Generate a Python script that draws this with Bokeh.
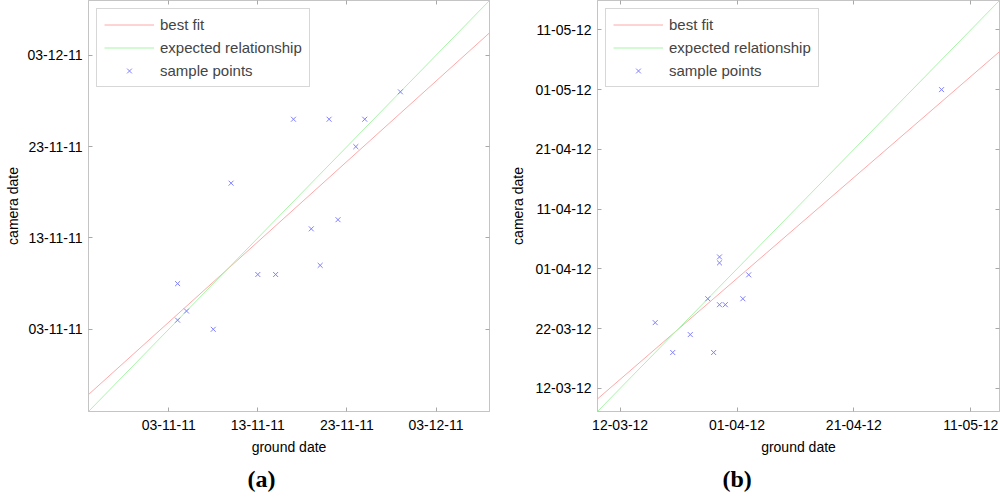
import pandas as pd
from bokeh.plotting import figure
from bokeh.layouts import row
from bokeh.models import (Range1d, FixedTicker, DatetimeAxis, DatetimeTickFormatter,
                          Legend, LegendItem, Title, CustomJSTickFormatter, ColumnDataSource)
from bokeh.core.properties import value
from bokeh.embed import file_html
from bokeh.resources import INLINE

# ---------------- Panel (a) data ----------------
A_GROUND = ["2011-11-04", "2011-11-04", "2011-11-05", "2011-11-08", "2011-11-10",
            "2011-11-13", "2011-11-15", "2011-11-17", "2011-11-19", "2011-11-20",
            "2011-11-21", "2011-11-22", "2011-11-24", "2011-11-25", "2011-11-29"]
A_CAMERA = ["2011-11-08", "2011-11-04", "2011-11-05", "2011-11-03", "2011-11-19",
            "2011-11-09", "2011-11-09", "2011-11-26", "2011-11-14", "2011-11-10",
            "2011-11-26", "2011-11-15", "2011-11-23", "2011-11-26", "2011-11-29"]
A_RANGE = ["2011-10-25 00:00", "2011-12-09 00:00"]
A_FIT_CAMERA = ["2011-10-26 20:30", "2011-12-05 11:00"]
A_XTICKS = ["2011-11-03", "2011-11-13", "2011-11-23", "2011-12-03"]
A_YTICKS = ["2011-11-03", "2011-11-13", "2011-11-23", "2011-12-03"]

# ---------------- Panel (b) data ----------------
B_GROUND = ["2012-03-18", "2012-03-21", "2012-03-24", "2012-03-27", "2012-03-28",
            "2012-03-29", "2012-03-29", "2012-03-29", "2012-03-30", "2012-04-02",
            "2012-04-03", "2012-05-06"]
B_CAMERA = ["2012-03-23", "2012-03-18", "2012-03-21", "2012-03-27", "2012-03-18",
            "2012-04-03", "2012-04-02", "2012-03-26", "2012-03-26", "2012-03-27",
            "2012-03-31", "2012-05-01"]
B_RANGE = ["2012-03-08 03:00", "2012-05-15 22:00"]
B_FIT_CAMERA = ["2012-03-10 05:30", "2012-05-07 08:30"]
B_XTICKS = ["2012-03-12", "2012-04-01", "2012-04-21", "2012-05-11"]
B_YTICKS = ["2012-03-12", "2012-03-22", "2012-04-01", "2012-04-11",
            "2012-04-21", "2012-05-01", "2012-05-11"]

LEGEND_LABELS = ["best fit", "expected relationship", "sample points"]
X_LABEL = "ground date"
Y_LABEL = "camera date"

GRAY = "#c4c4c4"
TICK_GRAY = "#a8a8a8"
RED = "#ffa8a8"
GREEN = "#a8f5a8"
BLUE = "#7f7fff"
FONT = "Liberation Sans"


def ms(lst):
    return [pd.Timestamp(s).value // 10**6 for s in lst]


def fmt():
    f = "%d-%m-%y"
    return DatetimeTickFormatter(microseconds=f, milliseconds=f, seconds=f, minsec=f,
                                 minutes=f, hourmin=f, hours=f, days=f, months=f, years=f)


def style_axis(ax, ticks, label):
    ax.ticker = FixedTicker(ticks=ms(ticks))
    ax.formatter = fmt()
    ax.axis_label = label
    ax.axis_label_text_font = FONT
    ax.axis_label_text_font_style = "normal"
    ax.axis_label_text_font_size = "14px"
    ax.axis_label_text_color = "black"
    ax.major_label_text_font = FONT
    ax.major_label_text_font_size = "14px"
    ax.major_label_text_color = "black"
    ax.major_tick_in = 4
    ax.major_tick_out = 0
    ax.minor_tick_line_color = None
    ax.axis_line_color = GRAY
    ax.major_tick_line_color = TICK_GRAY


def blank_axis(ticks):
    return DatetimeAxis(ticker=FixedTicker(ticks=ms(ticks)),
                        formatter=CustomJSTickFormatter(code="return ''"),
                        major_label_text_font_size="0px", major_label_standoff=0,
                        major_tick_in=4, major_tick_out=0, minor_tick_line_color=None,
                        axis_line_color=GRAY, major_tick_line_color=TICK_GRAY)


def panel(ground, camera, rng, fit_cam, xticks, yticks, tag, min_left, min_right, tag_off,
          ylabel_standoff):
    r = pd.to_datetime(rng)
    p = figure(width=500, height=499, output_backend="svg", toolbar_location=None,
               x_axis_type="datetime", y_axis_type="datetime",
               x_range=Range1d(r[0], r[1]), y_range=Range1d(r[0], r[1]),
               min_border_left=min_left, min_border_right=min_right,
               min_border_top=0, min_border_bottom=88)
    p.grid.visible = False
    p.outline_line_color = GRAY
    p.background_fill_color = "white"
    p.border_fill_color = "white"

    style_axis(p.xaxis[0], xticks, X_LABEL)
    style_axis(p.yaxis[0], yticks, Y_LABEL)
    p.xaxis[0].major_label_standoff = 8
    p.xaxis[0].axis_label_standoff = 6
    p.yaxis[0].major_label_standoff = 6
    p.yaxis[0].axis_label_standoff = ylabel_standoff

    p.add_layout(blank_axis(xticks), "above")
    p.add_layout(blank_axis(yticks), "right")

    fit_src = ColumnDataSource(dict(x=r, y=pd.to_datetime(fit_cam)))
    exp_src = ColumnDataSource(dict(x=r, y=r))
    pts_src = ColumnDataSource(dict(x=pd.to_datetime(ground), y=pd.to_datetime(camera)))

    r_fit = p.line("x", "y", source=fit_src, line_color=RED, line_width=1)
    r_exp = p.line("x", "y", source=exp_src, line_color=GREEN, line_width=1)
    r_pts = p.scatter("x", "y", source=pts_src, marker="x", size=7,
                      line_color=BLUE, line_width=1)

    legend = Legend(items=[LegendItem(label=value(LEGEND_LABELS[0]), renderers=[r_fit]),
                           LegendItem(label=value(LEGEND_LABELS[1]), renderers=[r_exp]),
                           LegendItem(label=value(LEGEND_LABELS[2]), renderers=[r_pts])],
                    location="top_left", margin=8, padding=7, spacing=6,
                    glyph_width=50, glyph_height=17, label_height=17, label_standoff=6,
                    label_text_font=FONT, label_text_font_size="15px",
                    border_line_color="#b0b0b0", background_fill_color="white",
                    background_fill_alpha=1.0)
    p.add_layout(legend)

    p.add_layout(Title(text=tag, align="left", offset=tag_off, standoff=13,
                       text_font="Liberation Serif", text_font_style="bold",
                       text_font_size="24px", text_color="black"), "below")
    return p


pa = panel(A_GROUND, A_CAMERA, A_RANGE, A_FIT_CAMERA, A_XTICKS, A_YTICKS, "(a)",
           88, 11, 159, 3)
pb = panel(B_GROUND, B_CAMERA, B_RANGE, B_FIT_CAMERA, B_XTICKS, B_YTICKS, "(b)",
           97, 1, 125, 6)

layout = row(pa, pb)

open("out.html", "w").write(file_html(layout, INLINE))
